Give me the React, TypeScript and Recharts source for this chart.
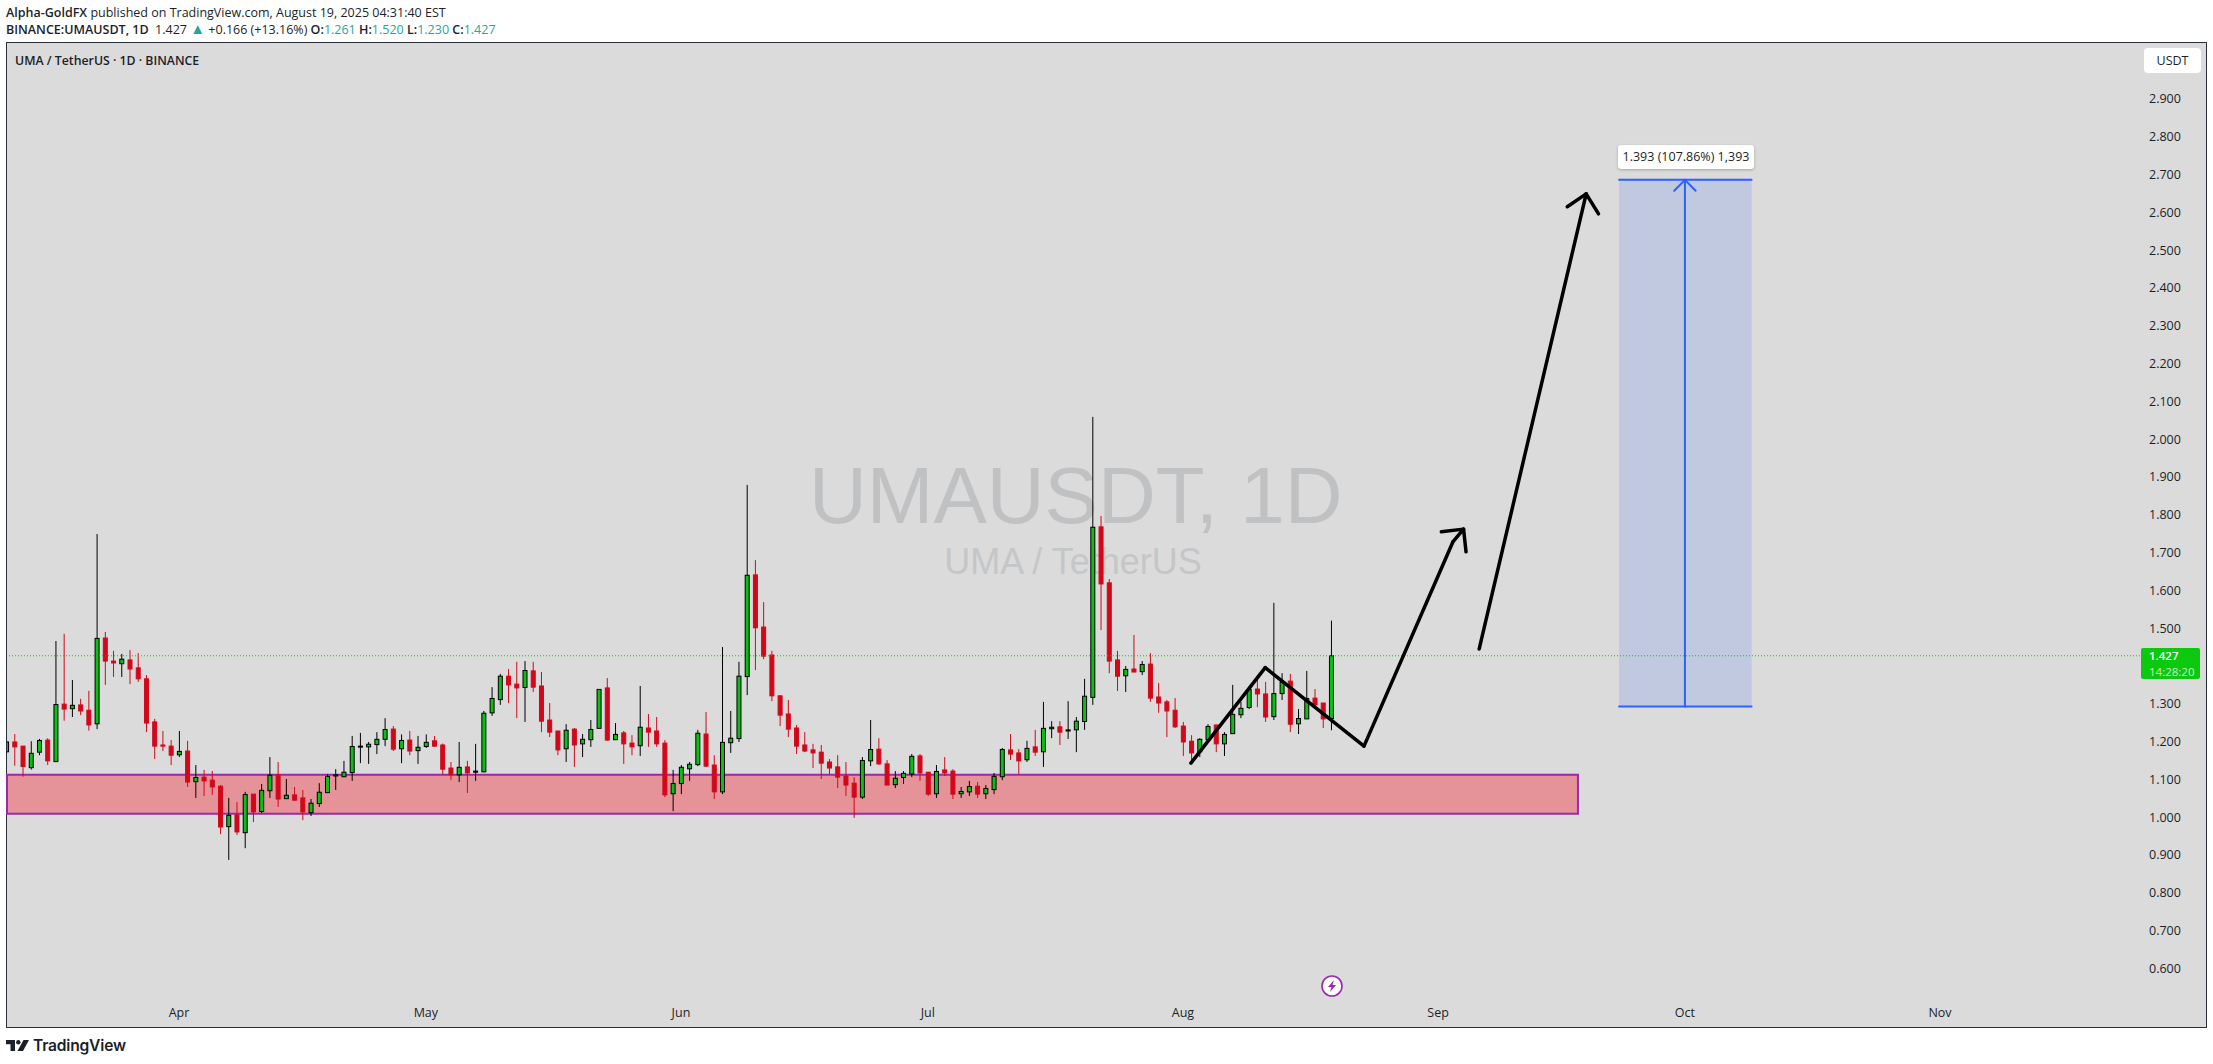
import { Bar, ComposedChart, ReferenceArea, ReferenceLine, XAxis, YAxis } from 'recharts'

// daily candles, first one is 11 Mar, last one 19 Aug
const opens = [
  1.173, 1.199, 1.188, 1.131, 1.172, 1.204, 1.147, 1.299, 1.287, 1.297,
  1.283, 1.247, 1.474, 1.413, 1.406, 1.416, 1.395, 1.366, 1.252, 1.191,
  1.188, 1.165, 1.175, 1.094, 1.106, 1.098, 1.082, 0.975, 1.006, 0.959,
  1.061, 1.015, 1.070, 1.112, 1.049, 1.059, 1.051, 1.012, 1.036, 1.065,
  1.109, 1.107, 1.118, 1.186, 1.186, 1.192, 1.206, 1.233, 1.181, 1.204,
  1.176, 1.187, 1.202, 1.191, 1.130, 1.112, 1.133, 1.119, 1.120, 1.276,
  1.311, 1.373, 1.352, 1.343, 1.387, 1.347, 1.257, 1.228, 1.181, 1.233,
  1.194, 1.205, 1.235, 1.342, 1.205, 1.223, 1.196, 1.189, 1.236, 1.228,
  1.196, 1.062, 1.089, 1.128, 1.139, 1.220, 1.138, 1.067, 1.197, 1.208,
  1.372, 1.641, 1.503, 1.429, 1.321, 1.273, 1.236, 1.191, 1.178, 1.172,
  1.146, 1.133, 1.109, 1.090, 1.053, 1.149, 1.180, 1.141, 1.086, 1.105,
  1.114, 1.162, 1.119, 1.062, 1.125, 1.122, 1.062, 1.067, 1.082, 1.062,
  1.073, 1.107, 1.178, 1.170, 1.152, 1.186, 1.173, 1.234, 1.239, 1.228,
  1.231, 1.253, 1.317, 1.768, 1.620, 1.416, 1.374, 1.392, 1.385, 1.405,
  1.318, 1.305, 1.283, 1.241, 1.201, 1.173, 1.205, 1.244, 1.194, 1.221,
  1.271, 1.290, 1.339, 1.326, 1.266, 1.327, 1.360, 1.247, 1.260, 1.315,
  1.302, 1.261,
]
const closes = [
  1.199, 1.186, 1.134, 1.169, 1.203, 1.149, 1.298, 1.286, 1.296, 1.281,
  1.244, 1.473, 1.413, 1.408, 1.418, 1.392, 1.366, 1.249, 1.188, 1.188,
  1.164, 1.174, 1.093, 1.105, 1.096, 1.080, 0.974, 1.005, 0.961, 1.060,
  1.014, 1.071, 1.111, 1.048, 1.058, 1.045, 1.014, 1.037, 1.066, 1.108,
  1.112, 1.119, 1.187, 1.188, 1.193, 1.206, 1.232, 1.180, 1.203, 1.175,
  1.185, 1.198, 1.188, 1.127, 1.112, 1.132, 1.117, 1.122, 1.275, 1.314,
  1.373, 1.350, 1.342, 1.388, 1.344, 1.254, 1.225, 1.178, 1.230, 1.191,
  1.206, 1.232, 1.338, 1.204, 1.219, 1.194, 1.186, 1.238, 1.225, 1.194,
  1.059, 1.089, 1.132, 1.140, 1.222, 1.135, 1.067, 1.198, 1.209, 1.373,
  1.640, 1.501, 1.426, 1.321, 1.270, 1.233, 1.188, 1.175, 1.170, 1.143,
  1.130, 1.106, 1.085, 1.053, 1.150, 1.179, 1.141, 1.085, 1.103, 1.116,
  1.161, 1.117, 1.061, 1.121, 1.117, 1.061, 1.068, 1.081, 1.061, 1.076,
  1.108, 1.179, 1.167, 1.149, 1.182, 1.172, 1.235, 1.238, 1.225, 1.231,
  1.254, 1.320, 1.767, 1.617, 1.413, 1.373, 1.391, 1.384, 1.404, 1.315,
  1.302, 1.281, 1.239, 1.199, 1.170, 1.206, 1.240, 1.194, 1.219, 1.272,
  1.288, 1.338, 1.326, 1.265, 1.327, 1.357, 1.246, 1.261, 1.314, 1.297,
  1.260, 1.427,
]
const highs = [
  1.205, 1.220, 1.188, 1.201, 1.207, 1.209, 1.466, 1.485, 1.363, 1.313,
  1.334, 1.749, 1.490, 1.440, 1.432, 1.442, 1.434, 1.376, 1.260, 1.228,
  1.204, 1.228, 1.202, 1.138, 1.125, 1.122, 1.085, 1.051, 1.040, 1.067,
  1.061, 1.088, 1.159, 1.146, 1.101, 1.080, 1.072, 1.048, 1.090, 1.114,
  1.127, 1.149, 1.215, 1.223, 1.199, 1.225, 1.262, 1.241, 1.219, 1.228,
  1.215, 1.219, 1.215, 1.195, 1.146, 1.199, 1.149, 1.194, 1.281, 1.344,
  1.379, 1.392, 1.411, 1.413, 1.411, 1.384, 1.302, 1.228, 1.246, 1.236,
  1.220, 1.257, 1.338, 1.368, 1.249, 1.228, 1.217, 1.347, 1.273, 1.265,
  1.204, 1.125, 1.138, 1.146, 1.231, 1.278, 1.164, 1.450, 1.281, 1.411,
  1.879, 1.680, 1.569, 1.440, 1.323, 1.310, 1.244, 1.225, 1.194, 1.191,
  1.154, 1.164, 1.146, 1.106, 1.159, 1.257, 1.209, 1.151, 1.122, 1.122,
  1.167, 1.167, 1.119, 1.138, 1.159, 1.127, 1.080, 1.096, 1.093, 1.085,
  1.117, 1.183, 1.220, 1.180, 1.202, 1.231, 1.305, 1.254, 1.254, 1.307,
  1.265, 1.366, 2.059, 1.797, 1.630, 1.440, 1.400, 1.482, 1.413, 1.434,
  1.355, 1.310, 1.315, 1.252, 1.217, 1.209, 1.246, 1.244, 1.225, 1.350,
  1.305, 1.341, 1.363, 1.358, 1.567, 1.381, 1.379, 1.286, 1.387, 1.339,
  1.302, 1.520,
]
const lows = [
  1.168, 1.136, 1.107, 1.126, 1.164, 1.138, 1.147, 1.255, 1.265, 1.270,
  1.229, 1.233, 1.350, 1.371, 1.371, 1.352, 1.358, 1.225, 1.154, 1.175,
  1.138, 1.159, 1.080, 1.051, 1.056, 1.059, 0.955, 0.887, 0.953, 0.918,
  0.987, 1.011, 1.051, 1.027, 1.048, 1.043, 0.992, 1.003, 1.027, 1.064,
  1.072, 1.106, 1.096, 1.143, 1.141, 1.167, 1.188, 1.175, 1.143, 1.164,
  1.141, 1.183, 1.186, 1.112, 1.098, 1.093, 1.064, 1.096, 1.119, 1.268,
  1.297, 1.302, 1.262, 1.252, 1.331, 1.225, 1.212, 1.164, 1.146, 1.133,
  1.159, 1.186, 1.234, 1.202, 1.204, 1.141, 1.164, 1.162, 1.186, 1.186,
  1.053, 1.016, 1.061, 1.096, 1.135, 1.133, 1.048, 1.061, 1.170, 1.199,
  1.323, 1.389, 1.418, 1.307, 1.241, 1.212, 1.167, 1.172, 1.130, 1.101,
  1.114, 1.077, 1.056, 0.998, 1.048, 1.135, 1.138, 1.085, 1.077, 1.088,
  1.106, 1.096, 1.056, 1.051, 1.109, 1.048, 1.051, 1.056, 1.051, 1.048,
  1.061, 1.098, 1.151, 1.114, 1.146, 1.162, 1.133, 1.209, 1.191, 1.207,
  1.172, 1.231, 1.297, 1.495, 1.381, 1.334, 1.331, 1.384, 1.376, 1.305,
  1.276, 1.212, 1.236, 1.162, 1.142, 1.159, 1.204, 1.172, 1.162, 1.220,
  1.262, 1.286, 1.291, 1.252, 1.257, 1.310, 1.225, 1.220, 1.260, 1.297,
  1.236, 1.230,
]

// 1.400 is covered by the last price label, same as on the original
const priceTicks = [
  0.6, 0.7, 0.8, 0.9, 1.0, 1.1, 1.2, 1.3, 1.5, 1.6, 1.7, 1.8, 1.9, 2.0, 2.1, 2.2, 2.3, 2.4, 2.5, 2.6, 2.7, 2.8, 2.9,
]
const monthTicks = [21, 51, 82, 112, 143, 174, 204, 235]
const monthLabels = ['Apr', 'May', 'Jun', 'Jul', 'Aug', 'Sep', 'Oct', 'Nov']

// drawings on the chart, [day, price]
const zigzag = [[143.97, 1.143], [153, 1.3955], [165, 1.188], [175.8, 1.728], [177.1, 1.762]]
const firstHead = [[174.4, 1.755], [177.1, 1.762], [177.4, 1.702]]
const secondArrow = [[179, 1.445], [192, 2.649]]
const secondHead = [[189.7, 2.615], [192, 2.649], [193.5, 2.596]]
const targetHead = [[202.7, 2.657], [204, 2.686], [205.3, 2.657]]
const supportZone = { from: 1.009, to: 1.112, endDay: 191 }
const targetBox = { low: 1.293, high: 2.686, startDay: 196, endDay: 212.1, midDay: 204 }
const lastPrice = 1.427

const candles = opens.map((open, i) => ({
  day: i,
  open,
  close: closes[i],
  high: highs[i],
  low: lows[i],
  range: [lows[i], highs[i]],
}))

const UP = '#0bbf16'
const DOWN = '#d2081a'
const FONT = '"Open Sans", sans-serif'

function Candle(props: any) {
  const { x, y, width, height, payload } = props
  const { open, close, high, low } = payload
  const k = height / (high - low)
  const top = y + (high - Math.max(open, close)) * k
  const bottom = y + (high - Math.min(open, close)) * k
  const mid = x + width / 2
  const up = close >= open
  const edge = up ? '#000' : DOWN
  return (
    <g>
      <line x1={mid} x2={mid} y1={y} y2={y + height} stroke={edge} strokeWidth={1} />
      <rect
        x={mid - 2}
        y={top}
        width={4}
        height={Math.max(bottom - top, 1)}
        fill={up ? UP : DOWN}
        stroke={edge}
        strokeWidth={1}
      />
    </g>
  )
}

function polyline(points: number[][], color: string, width: number) {
  return points.slice(1).map((p, i) => (
    <ReferenceLine
      key={color + points[0][0] + i}
      segment={[
        { x: points[i][0], y: points[i][1] },
        { x: p[0], y: p[1] },
      ]}
      stroke={color}
      strokeWidth={width}
      strokeLinecap="round"
    />
  ))
}

const abs = (left: number, top: number, extra: object = {}) => ({
  position: 'absolute' as const,
  left,
  top,
  whiteSpace: 'nowrap' as const,
  ...extra,
})

export default function App() {
  return (
    <div style={{ position: 'absolute', left: 0, top: 0, width: 2213, height: 1064, background: '#fff', fontFamily: FONT, overflow: 'hidden' }}>
      <div style={abs(6, 4, { fontSize: 12.5, color: '#1c1f28', lineHeight: '17px' })}>
        <b style={{ fontWeight: 600 }}>Alpha-GoldFX</b> published on TradingView.com, August 19, 2025 04:31:40 EST
      </div>
      <div style={abs(6, 21, { fontSize: 12.5, color: '#1c1f28', lineHeight: '17px' })}>
        <b style={{ fontWeight: 600 }}>BINANCE:UMAUSDT, 1D</b>&nbsp; 1.427 <span style={{ color: '#26a69a', fontSize: 15, lineHeight: 0 }}>▲</span> +0.166 (+13.16%)&nbsp;
        <b style={{ fontWeight: 600 }}>O:</b><span style={{ color: '#26a69a' }}>1.261</span>&nbsp;
        <b style={{ fontWeight: 600 }}>H:</b><span style={{ color: '#26a69a' }}>1.520</span>&nbsp;
        <b style={{ fontWeight: 600 }}>L:</b><span style={{ color: '#26a69a' }}>1.230</span>&nbsp;
        <b style={{ fontWeight: 600 }}>C:</b><span style={{ color: '#26a69a' }}>1.427</span>
      </div>

      <div style={abs(6, 42, { width: 2201, height: 986, boxSizing: 'border-box', background: '#dbdbdb', border: '1px solid #2a2e39' })} />
      <div style={abs(15, 52, { fontSize: 12.3, fontWeight: 600, color: '#1c1f28', lineHeight: '17px' })}>UMA / TetherUS · 1D · BINANCE</div>

      <div style={abs(809, 446, { width: 529, textAlign: 'center', fontFamily: '"Liberation Sans", sans-serif', fontSize: 80, lineHeight: '100px', color: '#c0c1c3' })}>UMAUSDT, 1D</div>
      <div style={abs(944, 541, { width: 258, textAlign: 'center', fontFamily: '"Liberation Sans", sans-serif', fontSize: 36, lineHeight: '42px', color: '#c5c6c8' })}>UMA / TetherUS</div>

      <div style={{ position: 'absolute', left: 0, top: 0 }}>
        <ComposedChart width={2213} height={1064} data={candles} margin={{ top: 43, right: 7, bottom: 37, left: 7 }}>
          <XAxis
            dataKey="day"
            type="number"
            domain={[0.1, 259.3]}
            allowDataOverflow
            ticks={monthTicks}
            interval={0}
            tickFormatter={(d: number) => monthLabels[monthTicks.indexOf(d)]}
            height={27}
            axisLine={false}
            tickLine={false}
            tick={{ fontSize: 12.5, fill: '#1c1f28', fontFamily: FONT }}
          />
          <YAxis
            orientation="right"
            type="number"
            domain={[0.5164, 3.048]}
            allowDataOverflow
            ticks={priceTicks}
            interval={0}
            tickFormatter={(p: number) => p.toFixed(3)}
            width={66}
            axisLine={false}
            tickLine={false}
            tickMargin={3}
            tick={{ fontSize: 12.5, fill: '#1c1f28', fontFamily: FONT, textAnchor: 'start' }}
          />
          <ReferenceArea
            x1={0.1}
            x2={supportZone.endDay}
            y1={supportZone.from}
            y2={supportZone.to}
            fill="#e59399"
            fillOpacity={1}
            stroke="#9c27b0"
            strokeWidth={2}
          />
          <ReferenceLine y={lastPrice} stroke="#08c70f" strokeWidth={1} strokeDasharray="1 2" />
          <Bar dataKey="range" barSize={5} isAnimationActive={false} shape={Candle} />
          {polyline(zigzag, '#000', 3.5)}
          {polyline(firstHead, '#000', 3.5)}
          {polyline(secondArrow, '#000', 3.5)}
          {polyline(secondHead, '#000', 3.5)}
          <ReferenceArea
            x1={targetBox.startDay}
            x2={targetBox.endDay}
            y1={targetBox.low}
            y2={targetBox.high}
            fill="#2962ff"
            fillOpacity={0.15}
            stroke="none"
          />
          {polyline([[targetBox.startDay, targetBox.high], [targetBox.endDay, targetBox.high]], '#2962ff', 2)}
          {polyline([[targetBox.startDay, targetBox.low], [targetBox.endDay, targetBox.low]], '#2962ff', 2)}
          {polyline([[targetBox.midDay, targetBox.low], [targetBox.midDay, targetBox.high]], '#2962ff', 2)}
          {polyline(targetHead, '#2962ff', 2)}
        </ComposedChart>
      </div>

      <div style={abs(1618, 145, { width: 136, height: 24, background: '#fff', borderRadius: 3, boxShadow: '0 1px 3px rgba(0,0,0,.25)', textAlign: 'center', fontSize: 12.5, lineHeight: '24px', color: '#1c1f28' })}>
        1.393 (107.86%) 1,393
      </div>
      <div style={abs(2144, 48, { width: 57, height: 25, background: '#fff', borderRadius: 4, textAlign: 'center', fontSize: 12.5, lineHeight: '25px', color: '#1c1f28' })}>USDT</div>
      <div style={abs(2141, 648, { width: 59, height: 31, background: '#0cc80f', borderRadius: 2, fontSize: 11.5, lineHeight: '15.7px', color: '#fff', paddingLeft: 8, boxSizing: 'border-box' })}>
        <div style={{ fontWeight: 600 }}>1.427</div>
        <div style={{ color: '#c6efc4' }}>14:28:20</div>
      </div>

      <svg style={abs(1320, 974)} width={24} height={24} viewBox="0 0 24 24">
        <circle cx={12} cy={12} r={10} fill="#fff" stroke="#9c27b0" strokeWidth={1.6} />
        <path d="M14 6 L8 13 H11.5 L10 18 L16 11 H12.5 Z" fill="#9c27b0" />
      </svg>

      <svg style={abs(6, 1040)} width={23} height={11} viewBox="0 0 23 11">
        <path d="M0 0 H9 V11 H4.5 V4.2 H0 Z" fill="#1c1f28" />
        <circle cx={12.3} cy={2.2} r={2.2} fill="#1c1f28" />
        <path d="M17.5 0 H23 L17 11 H11.5 Z" fill="#1c1f28" />
      </svg>
      <div style={abs(33, 1035, { fontFamily: 'Inter, sans-serif', fontSize: 15.6, fontWeight: 600, lineHeight: '22px', color: '#1c1f28', letterSpacing: -0.2 })}>TradingView</div>
    </div>
  )
}
